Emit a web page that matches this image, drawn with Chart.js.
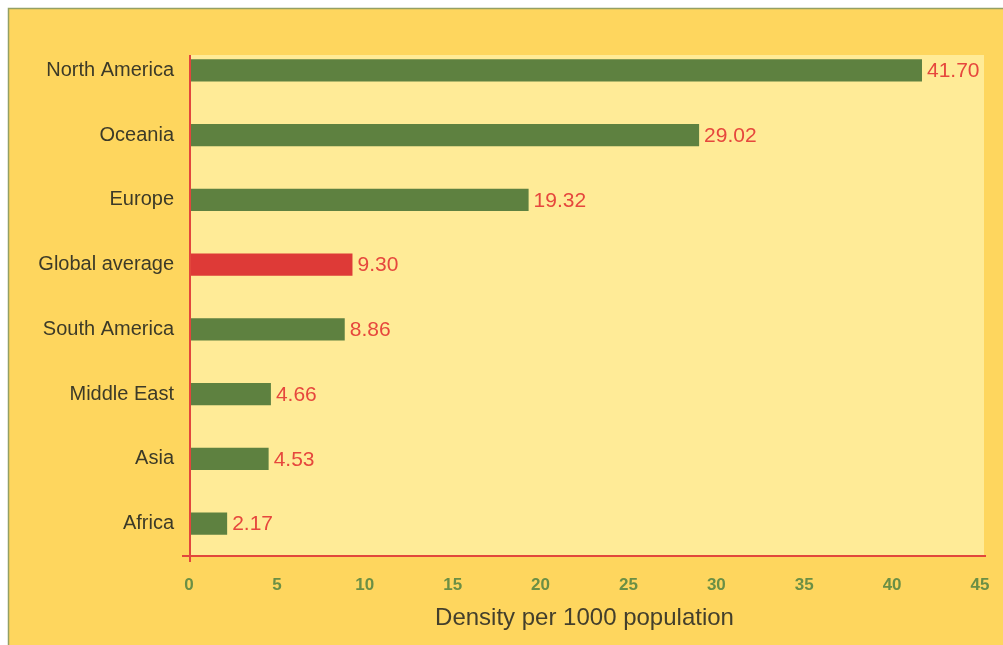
<!DOCTYPE html>
<html>
<head>
<meta charset="utf-8">
<script src="https://cdn.jsdelivr.net/npm/chart.js@4.4.1/dist/chart.umd.min.js"></script>
<style>
html,body{margin:0;padding:0;background:#fff;overflow:hidden;}
#wrap{position:relative;width:1003px;height:645px;}
</style>
</head>
<body>
<div id="wrap"><canvas id="c" width="1003" height="645"></canvas></div>
<script>
const categories = ["North America","Oceania","Europe","Global average","South America","Middle East","Asia","Africa"];
const densityValues = [41.70, 29.02, 19.32, 9.30, 8.86, 4.66, 4.53, 2.17];
const xTickMin = 0, xTickMax = 45, xTickStep = 5;
const xAxisTitle = "Density per 1000 population";
const highlightCategory = "Global average";

const FONT = "'Liberation Sans', Arial, sans-serif";
const GREEN = "#5E8140", RED = "#DE3A37";

const bgPlugin = {
  id: 'bgPlugin',
  beforeDraw(chart) {
    const ctx = chart.ctx, a = chart.chartArea;
    ctx.save();
    ctx.fillStyle = '#ffffff';
    ctx.fillRect(0, 0, chart.width, chart.height);
    ctx.fillStyle = '#FED65E';
    ctx.fillRect(8, 8, chart.width, chart.height);
    ctx.strokeStyle = '#94A064';
    ctx.lineWidth = 1.5;
    ctx.beginPath();
    ctx.moveTo(8.5, chart.height); ctx.lineTo(8.5, 8.5); ctx.lineTo(chart.width, 8.5);
    ctx.stroke();
    ctx.fillStyle = '#FFEB97';
    ctx.fillRect(a.left + 1, a.top + 17, a.right + 4 - (a.left + 1), a.bottom - (a.top + 17));
    ctx.restore();
  },
  afterDatasetsDraw(chart) {
    const ctx = chart.ctx, a = chart.chartArea;
    ctx.save();
    ctx.strokeStyle = '#E2473C';
    ctx.lineWidth = 2;
    ctx.beginPath();
    ctx.moveTo(a.left + 1, a.top + 17); ctx.lineTo(a.left + 1, a.bottom + 6);
    ctx.moveTo(a.left - 7, a.bottom); ctx.lineTo(a.right + 6, a.bottom);
    ctx.stroke();
    const meta = chart.getDatasetMeta(0);
    ctx.fillStyle = '#E6473D';
    ctx.font = "21px " + FONT;
    ctx.textAlign = 'left';
    ctx.textBaseline = 'middle';
    meta.data.forEach((bar, i) => {
      ctx.fillText(densityValues[i].toFixed(2), bar.x + 5, bar.y + 1);
    });
    ctx.restore();
  }
};

new Chart(document.getElementById('c'), {
  type: 'bar',
  data: {
    labels: categories,
    datasets: [{
      data: densityValues,
      backgroundColor: categories.map(c => c === highlightCategory ? RED : GREEN),
      borderWidth: 0,
      categoryPercentage: 1,
      barPercentage: 0.34
    }]
  },
  options: {
    indexAxis: 'y',
    responsive: false,
    animation: false,
    devicePixelRatio: 1,
    layout: { padding: { left: 0, top: 38, right: 23, bottom: 0 } },
    plugins: { legend: { display: false }, tooltip: { enabled: false } },
    scales: {
      x: {
        min: xTickMin, max: xTickMax,
        ticks: { stepSize: xTickStep, color: '#6B8F45', font: { family: FONT, size: 17, weight: 'bold' }, padding: 19 },
        grid: { display: false, drawTicks: false },
        border: { display: false },
        title: { display: true, text: xAxisTitle, color: '#433F2C', font: { family: FONT, size: 24 }, padding: { top: 0, bottom: 12 } },
        afterFit(s) { s.height = 89; s.paddingLeft = 0; s.paddingRight = 0; }
      },
      y: {
        ticks: { color: '#3C3A28', font: { family: FONT, size: 20 }, padding: 15 },
        grid: { display: false, drawTicks: false },
        border: { display: false },
        afterFit(s) { s.width = 189; }
      }
    }
  },
  plugins: [bgPlugin]
});
</script>
</body>
</html>
